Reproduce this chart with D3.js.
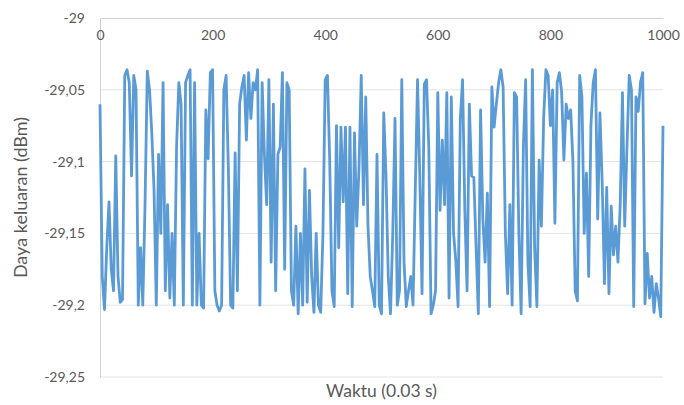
<!DOCTYPE html>
<html>
<head>
<meta charset="utf-8">
<script src="https://cdn.jsdelivr.net/npm/d3@7"></script>
<style>
  body { margin: 0; background: #fff; }
  text { font-family: Lato, "Open Sans", sans-serif; fill: #595959; }
</style>
</head>
<body>
<div id="chart"></div>
<script>
// output power readings, one every 4 samples (0..1000)
const power = [
  -29.060,-29.180,-29.203,-29.160,-29.128,-29.175,-29.190,-29.096,-29.180,-29.198,-29.196,
  -29.040,-29.036,-29.045,-29.110,-29.040,-29.050,-29.200,-29.160,-29.200,-29.130,-29.037,-29.050,-29.080,-29.120,-29.200,
  -29.095,-29.150,-29.045,-29.190,-29.130,-29.195,-29.150,-29.200,-29.090,-29.045,-29.060,-29.200,-29.045,-29.040,-29.036,-29.200,-29.045,-29.200,-29.150,-29.200,-29.202,-29.064,-29.098,-29.038,
  -29.036,-29.190,-29.200,-29.204,-29.200,-29.050,-29.040,-29.105,-29.200,-29.202,-29.094,-29.190,-29.060,-29.048,-29.040,-29.085,-29.038,-29.070,-29.045,-29.050,-29.036,-29.200,-29.045,-29.095,-29.130,-29.043,-29.170,-29.060,-29.190,-29.095,-29.090,-29.038,-29.175,-29.045,-29.050,-29.190,-29.200,-29.145,-29.206,-29.150,-29.200,
  -29.105,-29.198,-29.120,-29.180,-29.205,-29.150,-29.200,-29.205,-29.150,-29.043,
  -29.040,-29.099,-29.190,-29.201,-29.075,-29.160,-29.076,-29.128,-29.076,-29.192,
  -29.076,-29.201,-29.080,-29.145,-29.105,-29.040,-29.130,-29.055,-29.145,-29.180,
  -29.190,-29.201,-29.095,-29.200,-29.206,-29.066,-29.110,-29.180,-29.206,-29.150,
  -29.070,-29.200,-29.190,-29.043,-29.170,-29.201,-29.190,-29.180,-29.200,-29.120,
  -29.043,-29.110,-29.192,-29.046,-29.043,-29.090,-29.206,-29.200,
  -29.190,-29.052,-29.134,-29.085,-29.130,-29.052,-29.195,-29.055,-29.150,-29.169,
  -29.201,-29.070,-29.043,-29.134,-29.190,-29.060,-29.110,-29.111,-29.160,-29.206,
  -29.064,-29.140,-29.170,-29.122,-29.201,-29.048,-29.076,-29.060,-29.045,-29.036,
  -29.048,-29.150,-29.192,-29.130,-29.200,-29.052,-29.055,-29.150,-29.206,-29.090,
  -29.043,-29.170,-29.201,-29.036,-29.160,-29.201,-29.099,-29.145,-29.070,-29.036,
  -29.040,-29.075,-29.050,-29.143,-29.045,-29.038,-29.052,-29.099,-29.060,-29.070,
  -29.064,-29.100,-29.190,-29.197,-29.040,-29.055,-29.150,-29.108,-29.180,-29.075,
  -29.045,-29.036,-29.140,-29.066,-29.115,-29.185,-29.118,-29.192,-29.131,-29.165,
  -29.145,-29.170,-29.130,-29.052,-29.145,-29.090,-29.040,-29.050,-29.201,-29.055,
  -29.065,-29.045,-29.038,-29.199,-29.164,-29.195,-29.180,-29.205,-29.185,-29.195,
  -29.208,-29.075
];

const xTicks = [0, 200, 400, 600, 800, 1000];
const yTicks = [-29, -29.05, -29.1, -29.15, -29.2, -29.25];
const yTickLabels = ["-29", "-29,05", "-29,1", "-29,15", "-29,2", "-29,25"];

const W = 684, H = 405;
const margin = { top: 18, right: 21, bottom: 28, left: 100 };
const width = W - margin.left - margin.right;
const height = H - margin.top - margin.bottom;

const svg = d3.select("#chart")
  .append("svg")
  .attr("width", W)
  .attr("height", H);

const g = svg.append("g")
  .attr("transform", `translate(${margin.left},${margin.top})`);

const x = d3.scaleLinear().domain([0, 1000]).range([0, width]);
const y = d3.scaleLinear().domain([-29.25, -29]).range([height, 0]);

// gridlines
g.selectAll(".grid")
  .data(yTicks.slice(1))
  .enter()
  .append("line")
  .attr("x1", 0)
  .attr("x2", width)
  .attr("y1", d => y(d))
  .attr("y2", d => y(d))
  .attr("stroke", "#e4e4e4")
  .attr("stroke-width", 1);

// y axis
const yAxis = g.append("g")
  .call(d3.axisLeft(y)
    .tickValues(yTicks)
    .tickSize(0)
    .tickPadding(15)
    .tickFormat((d, i) => yTickLabels[i]));
yAxis.select(".domain").attr("stroke", "#d0d0d0");
yAxis.selectAll("text").style("font-size", "14px").attr("fill", "#595959");

// x axis sits at the top (-29)
const xAxis = g.append("g")
  .call(d3.axisBottom(x)
    .tickValues(xTicks)
    .tickSize(0)
    .tickPadding(12)
    .tickFormat(d3.format("d")));
xAxis.select(".domain").attr("stroke", "#d0d0d0");
xAxis.selectAll("text").style("font-size", "14px").attr("fill", "#595959");

// series
const line = d3.line()
  .x((d, i) => x(i * 1000 / (power.length - 1)))
  .y(d => y(d));

g.append("path")
  .datum(power)
  .attr("fill", "none")
  .attr("stroke", "#5b9bd5")
  .attr("stroke-width", 2.8)
  .attr("stroke-linejoin", "round")
  .attr("d", line);

// axis titles
svg.append("text")
  .attr("x", margin.left + width / 2)
  .attr("y", 397)
  .attr("text-anchor", "middle")
  .style("font-size", "17.5px")
  .text("Waktu (0.03 s)");

svg.append("text")
  .attr("transform", `translate(27,${margin.top + height / 2}) rotate(-90)`)
  .attr("text-anchor", "middle")
  .style("font-size", "18px")
  .text("Daya keluaran (dBm)");
</script>
</body>
</html>
